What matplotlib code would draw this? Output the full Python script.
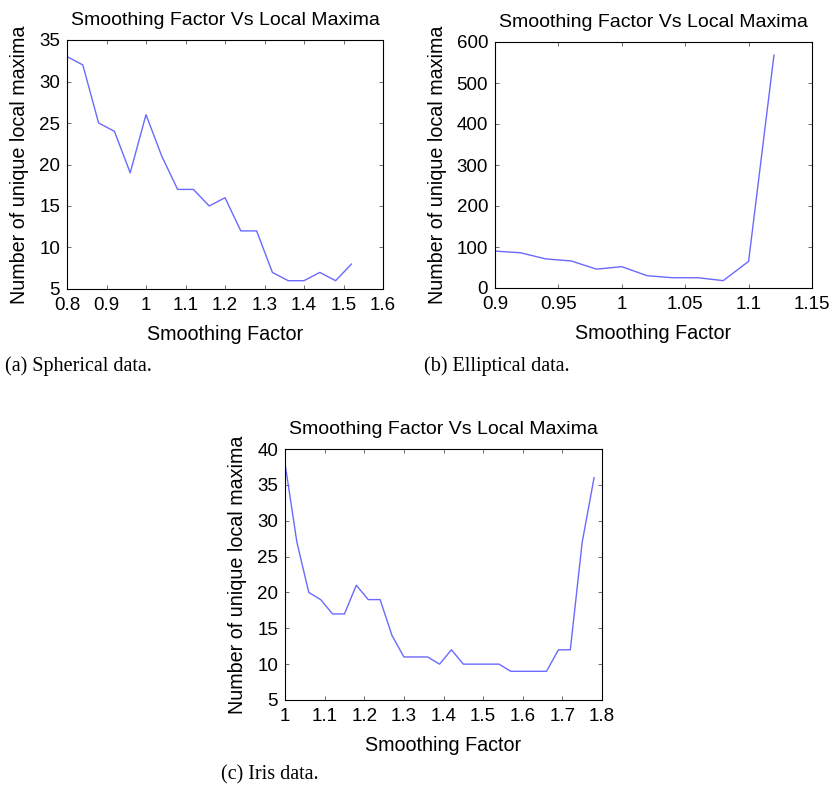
import matplotlib
matplotlib.use("Agg")
import matplotlib.pyplot as plt
from matplotlib.ticker import FuncFormatter

# Spherical data
sph_x = [0.80, 0.84, 0.88, 0.92, 0.96, 1.00, 1.04, 1.08, 1.12, 1.16, 1.20, 1.24, 1.28, 1.32, 1.36, 1.40, 1.44, 1.48, 1.52]
sph_y = [33, 32, 25, 24, 19, 26, 21, 17, 17, 15, 16, 12, 12, 7, 6, 6, 7, 6, 8]

# Elliptical data
ell_x = [0.90, 0.92, 0.94, 0.96, 0.98, 1.00, 1.02, 1.04, 1.06, 1.08, 1.10, 1.12]
ell_y = [90, 86, 71, 66, 46, 52, 30, 25, 25, 18, 65, 568]

# Iris data
iris_x = [1.00, 1.03, 1.06, 1.09, 1.12, 1.15, 1.18, 1.21, 1.24, 1.27, 1.30, 1.33, 1.36, 1.39,
          1.42, 1.45, 1.48, 1.51, 1.54, 1.57, 1.60, 1.63, 1.66, 1.69, 1.72, 1.75, 1.78]
iris_y = [38, 27, 20, 19, 17, 17, 21, 19, 19, 14, 11, 11, 11, 10,
          12, 10, 10, 10, 10, 9, 9, 9, 9, 12, 12, 27, 36]

title = "Smoothing Factor Vs Local Maxima"
xlabel = "Smoothing Factor"
ylabel = "Number of unique local maxima"
captions = ["(a) Spherical data.", "(b) Elliptical data.", "(c) Iris data."]

plt.rcParams['font.family'] = ['Liberation Sans', 'DejaVu Sans']
W, H = 833, 785
fig = plt.figure(figsize=(W / 100, H / 100), dpi=100)

def px_axes(l, t, r, b):
    return fig.add_axes([l / W, 1 - b / H, (r - l) / W, (b - t) / H])

fmt = FuncFormatter(lambda v, p: "%g" % round(v, 4))
line_color = "#6a6aff"

def style(ax, x, y, xlim, ylim, xticks, yticks):
    ax.plot(x, y, color=line_color, lw=1.0)
    ax.set_xlim(*xlim)
    ax.set_ylim(*ylim)
    ax.set_xticks(xticks)
    ax.set_yticks(yticks)
    ax.xaxis.set_major_formatter(fmt)
    ax.yaxis.set_major_formatter(fmt)
    ax.tick_params(direction="in", top=True, right=True, length=3, width=0.6,
                   labelsize=13.5, colors="#555555", labelcolor="black")
    ax.tick_params(axis="x", pad=6)
    ax.tick_params(axis="y", pad=5)
    for s in ax.spines.values():
        s.set_linewidth(0.8)
    ax.set_title(title, fontsize=14, pad=11)
    ax.set_xlabel(xlabel, fontsize=14.2, labelpad=8)
    ax.set_ylabel(ylabel, fontsize=14.2, labelpad=7)

ax1 = px_axes(67, 40, 383, 289)
style(ax1, sph_x, sph_y, (0.8, 1.6), (5, 35),
      [0.8, 0.9, 1.0, 1.1, 1.2, 1.3, 1.4, 1.5, 1.6], [5, 10, 15, 20, 25, 30, 35])

ax2 = px_axes(495, 42, 812, 288)
style(ax2, ell_x, ell_y, (0.9, 1.15), (0, 600),
      [0.9, 0.95, 1.0, 1.05, 1.1, 1.15], [0, 100, 200, 300, 400, 500, 600])

ax3 = px_axes(285, 449, 602, 700)
style(ax3, iris_x, iris_y, (1.0, 1.8), (5, 40),
      [1.0, 1.1, 1.2, 1.3, 1.4, 1.5, 1.6, 1.7, 1.8], [5, 10, 15, 20, 25, 30, 35, 40])

cap_font = dict(family=['Liberation Serif', 'DejaVu Serif'], fontsize=14.5, va="baseline")
fig.text(5 / W, 1 - 371 / H, captions[0], **cap_font)
fig.text(424 / W, 1 - 371 / H, captions[1], **cap_font)
fig.text(221 / W, 1 - 779 / H, captions[2], **cap_font)

fig.savefig("out.png", dpi=100)
